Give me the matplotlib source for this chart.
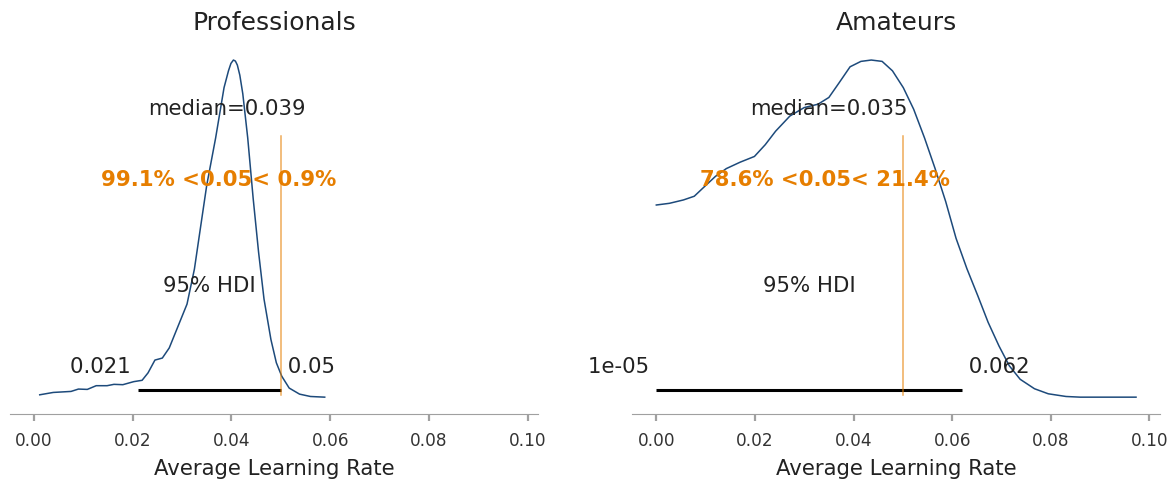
import matplotlib.pyplot as plt

# Densidade posterior (KDE) - profissionais
x_prof = [0.00116, 0.0039, 0.0075, 0.009, 0.0108, 0.0126, 0.0148, 0.0162, 0.018, 0.0202,
          0.0219, 0.0231, 0.0245, 0.026, 0.0274, 0.0292, 0.031, 0.0325, 0.0336, 0.035,
          0.0368, 0.0376, 0.0385, 0.0394, 0.0399, 0.0404, 0.0408, 0.0412, 0.0417, 0.0423,
          0.0433, 0.0444, 0.0455, 0.0466, 0.048, 0.0491, 0.0502, 0.0517, 0.0538, 0.056, 0.0589]
dens_prof = [0.007, 0.014, 0.017, 0.024, 0.023, 0.034, 0.034, 0.038, 0.037, 0.046,
             0.050, 0.072, 0.110, 0.116, 0.146, 0.211, 0.276, 0.380, 0.490, 0.629,
             0.769, 0.839, 0.918, 0.968, 0.990, 1.000, 0.997, 0.985, 0.955, 0.900,
             0.769, 0.590, 0.430, 0.291, 0.171, 0.102, 0.062, 0.027, 0.009, 0.002, 0.000]

# Densidade posterior (KDE) - amadores
x_amad = [0.0, 0.00266, 0.0055, 0.0077, 0.0098, 0.012, 0.0142, 0.017, 0.0199, 0.0221,
          0.0242, 0.0271, 0.030, 0.0328, 0.035, 0.0371, 0.0393, 0.0415, 0.0436, 0.0458,
          0.0479, 0.0501, 0.0522, 0.0544, 0.0565, 0.0587, 0.0608, 0.063, 0.0652, 0.0673,
          0.0695, 0.0716, 0.0738, 0.0767, 0.0795, 0.0831, 0.086, 0.0973]
dens_amad = [0.570, 0.575, 0.585, 0.596, 0.625, 0.655, 0.678, 0.697, 0.714, 0.749,
             0.789, 0.834, 0.859, 0.869, 0.889, 0.933, 0.980, 0.996, 1.000, 0.996,
             0.968, 0.918, 0.854, 0.769, 0.680, 0.580, 0.471, 0.381, 0.301, 0.222,
             0.152, 0.093, 0.053, 0.025, 0.010, 0.002, 0.000, 0.000]

titulos = ['Professionals', 'Amateurs']
medianas = [0.039, 0.035]
medias = [0.0375, 0.0342]
hdi_inf = [0.021, 1e-05]
hdi_sup = [0.050, 0.062]
hdi_txt_inf = ['0.021', '1e-05']
hdi_txt_sup = ['0.05', '0.062']
valor_ref = 0.05
pct_abaixo = ['99.1%', '78.6%']
pct_acima = ['0.9%', '21.4%']

AZUL = '#1d4a7b'
LARANJA = '#e67e00'
TEXTO = '#222222'

fig = plt.figure(figsize=(11.76, 4.85), dpi=100)
ax1 = fig.add_axes([0.0085, 0.1443, 0.4492, 0.7646])
ax2 = fig.add_axes([0.5377, 0.1443, 0.4487, 0.7646], sharex=ax1)
eixos = [ax1, ax2]
curvas = [(x_prof, dens_prof), (x_amad, dens_amad)]

for i, ax in enumerate(eixos):
    xs, ys = curvas[i]
    ax.plot(xs, ys, color=AZUL, lw=1.1)
    altura = ax.get_ylim()[1]

    # linha e rótulos do HDI
    ax.plot([hdi_inf[i], hdi_sup[i]], [altura * 0.02, altura * 0.02], lw=2.2,
            color='k', solid_capstyle='butt')
    ax.text(hdi_inf[i], altura * 0.07, hdi_txt_inf[i] + ' ', size=15.3,
            ha='right', color=TEXTO)
    ax.text(hdi_sup[i], altura * 0.07, ' ' + hdi_txt_sup[i], size=15.3,
            ha='left', color=TEXTO)
    ax.text((hdi_inf[i] + hdi_sup[i]) / 2, altura * 0.3, '95% HDI', size=15.3,
            ha='center', color=TEXTO)

    # valor de referência
    ax.axvline(valor_ref, ymin=0.05, ymax=0.75, lw=1.1, alpha=0.65, color=LARANJA)
    ax.text(medias[i], altura * 0.6,
            '{} <{:g}< {}'.format(pct_abaixo[i], valor_ref, pct_acima[i]),
            size=15.3, weight='semibold', ha='center', color=LARANJA)

    # mediana
    ax.text(medianas[i], altura * 0.8, 'median={:g}'.format(medianas[i]),
            size=15.3, ha='center', color=TEXTO)

    ax.set_title(titulos[i], fontsize=18, color=TEXTO, pad=10)
    ax.set_xlabel('Average Learning Rate', fontsize=15.3, color=TEXTO, labelpad=7)
    ax.set_yticks([])
    for lado in ['left', 'right', 'top']:
        ax.spines[lado].set_visible(False)
    ax.spines['bottom'].set_color('#a0a0a0')
    ax.tick_params(axis='x', length=5, width=1.6, color='#a0a0a0', pad=7,
                   labelsize=12.2, labelcolor='#333333')

ax1.set_xticks([0.0, 0.02, 0.04, 0.06, 0.08, 0.10])
ax1.set_xticklabels(['0.00', '0.02', '0.04', '0.06', '0.08', '0.10'])

plt.savefig('out.png', dpi=100)
